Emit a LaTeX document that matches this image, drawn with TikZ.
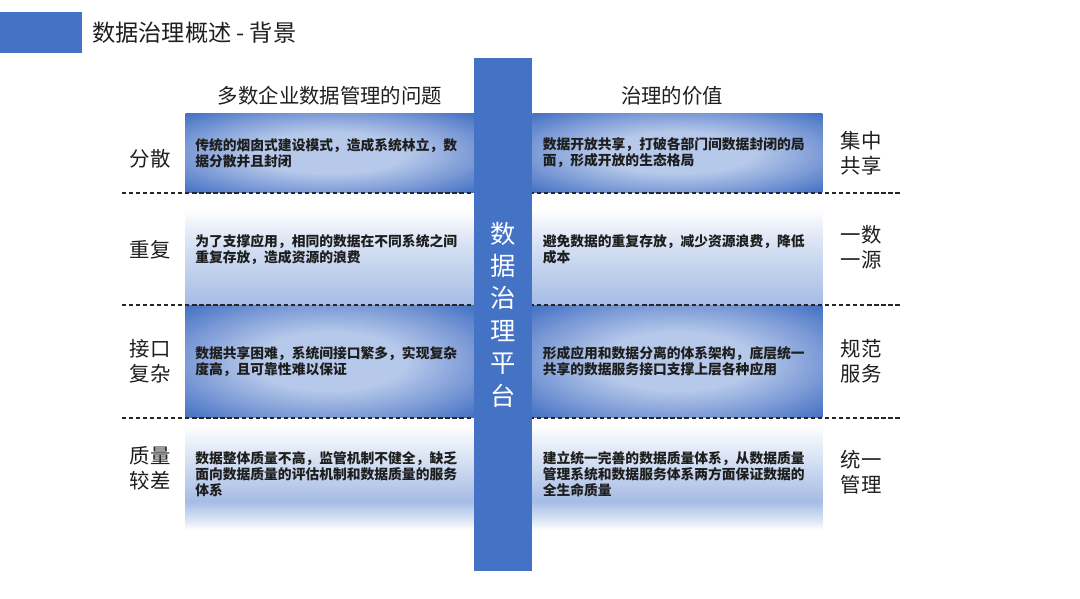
\documentclass[tikz,border=0pt]{standalone}
\usepackage{fontspec}
\newfontfamily\cjk{Noto Sans CJK SC}
\usetikzlibrary{positioning}

\definecolor{platblue}{HTML}{4472C4}
\definecolor{paleblue}{HTML}{A6BCE5}
\definecolor{softblue}{HTML}{D2DEF2}
\definecolor{midblue}{HTML}{B6C9EA}
\definecolor{edgeblue}{HTML}{7C9AD6}
\definecolor{inkgray}{HTML}{1E1E1E}

% fades for the rows (25bp..75bp covers the box)
\pgfdeclareradialshading{darkrow}{\pgfpoint{0bp}{0bp}}{color(0bp)=(midblue); color(13bp)=(midblue); color(25bp)=(edgeblue); color(35bp)=(platblue); color(50bp)=(platblue)}
\pgfdeclareverticalshading{lightrow}{100bp}{color(0bp)=(paleblue); color(25bp)=(paleblue); color(50bp)=(softblue); color(68bp)=(white); color(100bp)=(white)}
\pgfdeclareverticalshading{lastrow}{100bp}{color(0bp)=(white); color(25bp)=(white); color(31bp)=(softblue); color(38bp)=(paleblue); color(55bp)=(softblue); color(72bp)=(white); color(100bp)=(white)}

\begin{document}
\begin{tikzpicture}[
    x=0.025cm, y=-0.025cm,
    node distance=.35cm,
    every node/.style={font=\cjk, text=inkgray},
    rowbox/.style={anchor=north west, minimum width=7.225cm, inner xsep=.25cm, inner ysep=0pt,
        text width=6.725cm, align=left, font=\cjk\bfseries\fontsize{9.8}{11.4}\selectfont},
    darkrow/.style={rowbox, shading=darkrow},
    palerow/.style={rowbox, shading=lightrow},
    endrow/.style={rowbox, shading=lastrow},
    tag/.style={inner sep=0pt, align=center, font=\cjk\fontsize{14.5}{17.8}\selectfont},
    headline/.style={font=\cjk\fontsize{14.5}{17}\selectfont},
    sep/.style={black!85, line width=1.4pt, dash pattern=on 3pt off 2pt}
]
\useasboundingbox (0,0) rectangle (1080,599);

% title
\fill[platblue] (0,12) rectangle (82,53);
\node[anchor=west, inner sep=0pt, font=\cjk\fontsize{16.5}{18}\selectfont] (title) at (92,33) {数据治理概述 - 背景};

% column heads
\node[headline] (probhead) at (330,96) {多数企业数据管理的问题};
\node[headline] (valhead) at (672,96) {治理的价值};

% problems
\node[darkrow, minimum height=1.975cm] (p1) at (185,113) {传统的烟囱式建设模式，造成系统林立，数\\据分散并且封闭};
\node[palerow, minimum height=2.8cm] (p2) at (185,193) {为了支撑应用，相同的数据在不同系统之间\\重复存放，造成资源的浪费};
\node[darkrow, minimum height=2.8cm] (p3) at (185,305) {数据共享困难，系统间接口繁多，实现复杂\\度高，且可靠性难以保证};
\node[endrow, minimum height=2.8cm] (p4) at (185,418) {数据整体质量不高，监管机制不健全，缺乏\\面向数据质量的评估机制和数据质量的服务\\体系};

% values
\node[darkrow, minimum height=1.975cm, minimum width=7.25cm, inner xsep=.225cm] (v1) at (532,113) {数据开放共享，打破各部门间数据封闭的局\\面，形成开放的生态格局};
\node[palerow, minimum height=2.8cm, minimum width=7.25cm, inner xsep=.225cm] (v2) at (532,193) {避免数据的重复存放，减少资源浪费，降低\\成本};
\node[darkrow, minimum height=2.8cm, minimum width=7.25cm, inner xsep=.225cm] (v3) at (532,305) {形成应用和数据分离的体系架构，底层统一\\共享的数据服务接口支撑上层各种应用};
\node[endrow, minimum height=2.8cm, minimum width=7.25cm, inner xsep=.225cm] (v4) at (532,418) {建立统一完善的数据质量体系，从数据质量\\管理系统和数据服务体系两方面保证数据的\\全生命质量};

% row labels
\node[tag, left=of p1, yshift=-.15cm] (s1) {分散};
\node[tag, left=of p2] (s2) {重复};
\node[tag, left=of p3] (s3) {接口\\复杂};
\node[tag, left=of p4, yshift=.15cm] (s4) {质量\\较差};
\node[tag, right=.45cm of v1] (g1) {集中\\共享};
\node[tag, right=.45cm of v2, yshift=.05cm] (g2) {一数\\一源};
\node[tag, right=.45cm of v3] (g3) {规范\\服务};
\node[tag, right=.45cm of v4, yshift=.05cm] (g4) {统一\\管理};

% row separators
\draw[sep] (122,193) -- (902,193);
\draw[sep] (122,305) -- (902,305);
\draw[sep] (122,418) -- (902,418);

% platform bar
\node[fill=platblue, minimum width=1.45cm, minimum height=12.825cm, inner sep=0pt, align=center,
    text=white, font=\cjk\fontsize{18}{23}\selectfont] (plat) at (503,314.5) {数\\据\\治\\理\\平\\台};
\end{tikzpicture}
\end{document}
